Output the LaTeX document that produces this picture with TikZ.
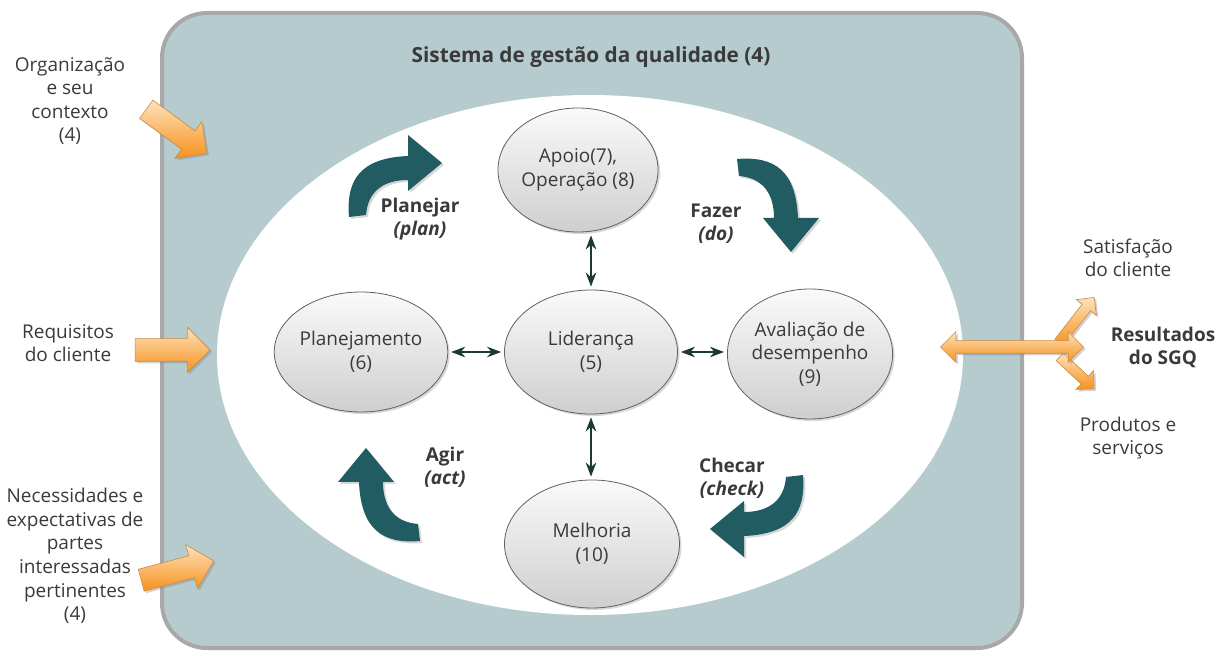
\documentclass[tikz,border=0pt]{standalone}
\usepackage{fontspec}
\setmainfont{Open Sans}
\usetikzlibrary{positioning,shapes.geometric,shapes.arrows,shadows,arrows.meta}

\definecolor{framefill}{HTML}{B5CBCE}
\definecolor{framedraw}{HTML}{A8A8A8}
\definecolor{cyclecol}{HTML}{215C62}
\definecolor{linkcol}{HTML}{1C3B2F}
\definecolor{txtgray}{HTML}{3A3A3A}
\definecolor{orangetop}{HTML}{FDE2BC}
\definecolor{orangebot}{HTML}{F7921C}
\definecolor{orangedraw}{HTML}{C98A4A}

\tikzset{
  cyclearrow/.pic={
    \fill[cyclecol, drop shadow={opacity=0.3, shadow xshift=1pt, shadow yshift=-1pt}]
      (-46,41) .. controls (-49,4) and (-35,-18) .. (13,-20) -- (13,-41) -- (47,-13)
      -- (13,15) -- (13,4) .. controls (-10,4) and (-27,14) .. (-29,39) -- cycle;
  }
}

\begin{document}
\begin{tikzpicture}[x=0.5pt, y=-0.5pt, font=\fontsize{9.5}{11.8}\selectfont, text=txtgray,
proc/.style={ellipse, draw=gray!75!black, top color=gray!4, bottom color=gray!38,
      align=center, inner sep=0pt,
      drop shadow={fill=gray!50, opacity=0.6, shadow xshift=1pt, shadow yshift=-1pt}},
link/.style={Stealth-Stealth, draw=linkcol, line width=0.9pt, shorten >=1.5pt, shorten <=1.5pt},
orange/.style={draw=orangedraw, line width=0.3pt, top color=orangetop, bottom color=orangebot,
      inner xsep=0pt, drop shadow={opacity=0.35, shadow xshift=1pt, shadow yshift=-1pt}},
inarrow/.style={single arrow, orange, minimum height=37.5pt, inner ysep=5.5pt,
      single arrow head extend=5.75pt},
outarrow/.style={single arrow, orange, inner ysep=2.5pt, single arrow head extend=3.75pt},
cyclelbl/.style={align=center, font=\fontsize{9.5}{11.5}\selectfont\bfseries},
sidelbl/.style={align=center}]
 \useasboundingbox (0,0) rectangle (1217,652);

 % frame of the system
 \draw[fill=framefill, draw=framedraw, line width=2pt, rounded corners=22.5pt] (162,13) rectangle (1022,648);
 \fill[white] (590,355) ellipse [x radius=186.5pt, y radius=130pt];
 \node[font=\fontsize{10.4}{12}\selectfont\bfseries] (title) at (591,57) {Sistema de gestão da qualidade (4)};

 \node[proc, minimum width=73.5pt, minimum height=62pt] (apoio) at (578,170) {Apoio(7),\\Operação (8)};
 \node[proc, minimum width=83.5pt, minimum height=60pt] (plan) at (361,352) {Planejamento\\(6)};
 \node[proc, minimum width=86.5pt, minimum height=62pt] (lider) at (591,352) {Liderança\\(5)};
 \node[proc, minimum width=75pt, minimum height=65pt] (aval) at (810,354) {Avaliação de\\desempenho\\(9)};
 \node[proc, minimum width=87.5pt, minimum height=64pt] (melh) at (592,544) {Melhoria\\(10)};

 \draw[link] (lider.north) -- (lider.north |- apoio.south);
 \draw[link] (lider.south) -- (lider.south |- melh.north);
 \draw[link] (lider.west) -- (lider.west -| plan.east);
 \draw[link] (lider.east) -- (lider.east -| aval.west);

 \pic at (395,176) {cyclearrow};
 \pic[rotate=-90] at (778,205) {cyclearrow};
 \pic[rotate=180] at (757,516) {cyclearrow};
 \pic[rotate=90] at (379,495) {cyclearrow};

 \node[cyclelbl] (planejar) at (420,219) {Planejar\\\textit{(plan)}};
 \node[cyclelbl] (fazer) at (716,224) {Fazer\\\textit{(do)}};
 \node[cyclelbl] (agir) at (445,467) {Agir\\\textit{(act)}};
 \node[cyclelbl] (checar) at (732,478) {Checar\\\textit{(check)}};

 % inputs
 \node[inarrow, rotate=-36] (orgarr) at (172,128) {};
 \node[inarrow] (reqarr) at (167,350) {};
 \node[inarrow, rotate=15] (necarr) at (172,572) {};
 \node[sidelbl] (org) at (70,101) {Organização\\e seu\\contexto\\(4)};
 \node[sidelbl] (req) at (68,343) {Requisitos\\do cliente};
 \node[sidelbl] (nec) at (75,556) {Necessidades e\\expectativas de\\partes\\interessadas\\pertinentes\\(4)};

 % outputs
 \node[outarrow, rotate=52, minimum height=28.5pt] (satarr) at (1075,322) {};
 \node[outarrow, rotate=-43, minimum height=23.5pt] (prodarr) at (1075,371) {};
 \node[double arrow, orange, minimum height=71.5pt, inner ysep=3pt, double arrow head extend=4.5pt] (resarr) at (1012,347) {};
 \node[sidelbl] (sat) at (1128,258) {Satisfação\\do cliente};
 \node[cyclelbl] (res) at (1163,347) {Resultados\\do SGQ};
 \node[sidelbl] (prod) at (1128,438) {Produtos e\\serviços};
\end{tikzpicture}
\end{document}
